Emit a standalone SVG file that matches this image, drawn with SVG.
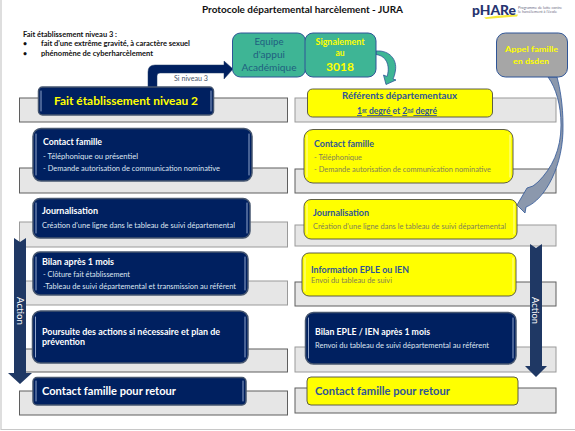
<svg xmlns="http://www.w3.org/2000/svg" width="575" height="431" viewBox="0 0 575 431">
<defs>
<style>
text{font-family:Lato,"Open Sans","Liberation Sans",sans-serif;white-space:pre}
.band{fill:#e6e6e6;stroke:#5f5f5f;stroke-width:1}
.bandr{fill:#e6e6e6;stroke:#9a9a9a;stroke-width:1}
.navy{fill:#002060;stroke:#46566f;stroke-width:1.500}
.yel{fill:#ffff00;stroke:#4d4d40;stroke-width:.9}
.gleam{fill:none;stroke:#8fa3c9;stroke-width:1;stroke-linecap:round}
.gleamy{fill:none;stroke:#ffffa8;stroke-width:1;stroke-linecap:round}
.teal{fill:#3eb595;stroke:#2f5597;stroke-width:1}
.wh{fill:#fff;font-weight:700}
.ws{fill:#dfe6f2;font-size:7px}
.yh{fill:#2f5597;font-weight:700}
.ys{fill:#7f8058;font-size:7px}
.yt{fill:#ffff00;font-weight:700}
.act{fill:#1f3864}
</style>
</defs>
<rect width="575" height="431" fill="#fff"/>
<path d="M1 0V429.500H575" fill="none" stroke="#c8c8c8" stroke-width="1.200"/>
<text x="202" y="13" font-size="9.500" fill="#111" font-weight="700" textLength="201" lengthAdjust="spacingAndGlyphs">Protocole départemental harcèlement - JURA</text>
<g id="logo">
<path d="M484 17.500Q502 15 518 14.500L517 16.500Q502 17.500 486 19Z" fill="#f6ea3a"/>
<text x="472" y="15" font-size="13.500" fill="#27346f" font-weight="900" textLength="44" lengthAdjust="spacingAndGlyphs">pHARe</text>
<text x="518" y="8.500" font-size="3" fill="#6d6d85" textLength="44" lengthAdjust="spacingAndGlyphs">Programme de lutte contre</text>
<text x="518" y="12.500" font-size="3" fill="#6d6d85" textLength="39" lengthAdjust="spacingAndGlyphs">le harcèlement à l'école</text>
</g>
<g id="note" font-size="7" fill="#111" font-weight="700">
<text x="23" y="37" textLength="94" lengthAdjust="spacingAndGlyphs">Fait établissement niveau 3 :</text>
<text x="23" y="46">•</text>
<text x="41" y="46" textLength="149" lengthAdjust="spacingAndGlyphs">fait d'une extrême gravité, à caractère sexuel</text>
<text x="23" y="56">•</text>
<text x="41" y="56" textLength="112" lengthAdjust="spacingAndGlyphs">phénomène de cyberharcèlement</text>
</g>
<g id="bands">
<rect class="band" x="19.500" y="98" width="268" height="24"/>
<rect class="band" x="19.500" y="168" width="268" height="25"/>
<rect class="bandr" x="19.500" y="222" width="268" height="25"/>
<rect class="bandr" x="19.500" y="281" width="268" height="24"/>
<rect class="band" x="19.500" y="349" width="268" height="23"/>
<rect class="band" x="19.500" y="391" width="268" height="24"/>
<rect class="bandr" x="295" y="98" width="261" height="24"/>
<rect class="band" x="295" y="169" width="261" height="24"/>
<rect class="bandr" x="295" y="225" width="261" height="21"/>
<rect class="band" x="295" y="282" width="261" height="24"/>
<rect class="bandr" x="295" y="347" width="261" height="25"/>
<rect class="band" x="295" y="388" width="261" height="25"/>
</g>
<g id="connectors">
<path d="M148 87V72Q148 65 155 65H224V61L233 69L224 79V73H160Q157 73 157 76V87Z" fill="#002060" stroke="#1f3864" stroke-width=".5"/>
<path d="M376 51C390 50 397 60 395.500 70C395 74 394 77 393 79L396 80L386 84.500L383.500 75L387 76.500C390 68 388 56 376 54.500Z" fill="#3eb595" stroke="#2f5597" stroke-width=".8"/>
<path d="M548 77C556 88 561 105 561 125C561 150 552 168 538 182L533 186L527 188L517 205L525 213L526 207C545 200 564 165 563 125C563 105 560 88 557 77Z" fill="#8b98ad" stroke="#2f5597" stroke-width=".8"/>
<path class="act" d="M14 238L20 242L26 238V373H32L20 384L8 373H14Z"/>
<path class="act" d="M530 244L536 248L542 244V366H547L536 377L525 366H530Z"/>
<text x="20" y="311" transform="rotate(90 20 311)" font-size="9" fill="#fff" text-anchor="middle" dominant-baseline="central" textLength="28" lengthAdjust="spacingAndGlyphs">Action</text>
<text x="535" y="310.500" transform="rotate(90 535 310.500)" font-size="9" fill="#fff" text-anchor="middle" dominant-baseline="central" textLength="27" lengthAdjust="spacingAndGlyphs">Action</text>
<text x="174" y="81" font-size="7" fill="#44546a" textLength="34" lengthAdjust="spacingAndGlyphs">Si niveau 3</text>
</g>
<g id="equipe">
<rect class="teal" x="232.500" y="33" width="73" height="44" rx="8"/>
<g font-size="10" fill="#1f5f80" text-anchor="middle"><text x="269" y="45" textLength="29" lengthAdjust="spacingAndGlyphs">Equipe</text><text x="269" y="58" textLength="32" lengthAdjust="spacingAndGlyphs">d'appui</text><text x="269" y="71" textLength="55" lengthAdjust="spacingAndGlyphs">Académique</text></g>
</g>
<g id="signalement">
<rect class="teal" x="305" y="33" width="71" height="44" rx="8"/>
<g text-anchor="middle"><text class="yt" x="340" y="45" font-size="8.500" textLength="49" lengthAdjust="spacingAndGlyphs">Signalement</text><text class="yt" x="340" y="56" font-size="8.500">au</text><text class="yt" x="340" y="71" font-size="12">3018</text></g>
</g>
<g id="appel">
<rect x="496.500" y="33" width="71" height="44" rx="9" fill="#a6a6a6" stroke="#2f5597" stroke-width="1"/>
<text class="yt" x="505" y="52" font-size="8" textLength="53" lengthAdjust="spacingAndGlyphs">Appel famille</text>
<text class="yt" x="513" y="64" font-size="8" textLength="36" lengthAdjust="spacingAndGlyphs">en dsden</text>
</g>
<g id="n-fait2">
<rect class="navy" x="38.500" y="87" width="175" height="28" rx="4"/>
<path class="gleam" d="M41 91V111M211 91V111"/>
<text class="yt" x="54" y="105" font-size="12" textLength="144" lengthAdjust="spacingAndGlyphs">Fait établissement niveau 2</text>
</g>
<g id="n-contact">
<rect class="navy" x="33" y="128.500" width="219" height="52.500" rx="8"/>
<path class="gleam" d="M36 134V175M249 134V175"/>
<text class="wh" x="43" y="145" font-size="8.500" textLength="59" lengthAdjust="spacingAndGlyphs">Contact famille</text>
<text class="ws" x="43" y="159" textLength="95" lengthAdjust="spacingAndGlyphs">- Téléphonique ou présentiel</text>
<text class="ws" x="43" y="171" textLength="177" lengthAdjust="spacingAndGlyphs">- Demande autorisation de communication nominative</text>
</g>
<g id="n-journal">
<rect class="navy" x="33" y="198.500" width="217" height="39.500" rx="7"/>
<path class="gleam" d="M36 203V233M247 203V233"/>
<text class="wh" x="42" y="214" font-size="8.500" textLength="56" lengthAdjust="spacingAndGlyphs">Journalisation</text>
<text class="ws" x="42" y="228" textLength="193" lengthAdjust="spacingAndGlyphs">Création d'une ligne dans le tableau de suivi départemental</text>
</g>
<g id="n-bilan">
<rect class="navy" x="33" y="252" width="215" height="43" rx="7"/>
<path class="gleam" d="M36 257V290M245 257V290"/>
<text class="wh" x="42" y="265" font-size="8.500" textLength="72" lengthAdjust="spacingAndGlyphs">Bilan après 1 mois</text>
<text class="ws" x="43" y="277" textLength="87" lengthAdjust="spacingAndGlyphs">- Clôture fait établissement</text>
<text class="ws" x="43" y="289" textLength="193" lengthAdjust="spacingAndGlyphs">-Tableau de suivi départemental et transmission au référent</text>
</g>
<g id="n-poursuite">
<rect class="navy" x="32.500" y="311" width="215.500" height="52" rx="8"/>
<path class="gleam" d="M35.500 317V357M245 317V357"/>
<text class="wh" x="42" y="335" font-size="8.500" textLength="178" lengthAdjust="spacingAndGlyphs">Poursuite des actions si nécessaire et plan de</text>
<text class="wh" x="42" y="345" font-size="8.500" textLength="43" lengthAdjust="spacingAndGlyphs">prévention</text>
</g>
<g id="n-retour">
<rect class="navy" x="33" y="377.500" width="213" height="27.500" rx="4"/>
<path class="gleam" d="M36 381V401M243 381V401"/>
<text class="wh" x="42" y="395" font-size="11" textLength="134" lengthAdjust="spacingAndGlyphs">Contact famille pour retour</text>
</g>
<g id="r-referents">
<rect class="yel" x="307.500" y="89" width="185" height="28" rx="5"/>
<text class="yh" x="342" y="99" font-size="9" textLength="115" lengthAdjust="spacingAndGlyphs">Référents départementaux</text>
<text class="yh" x="357" y="114" font-size="8.500"><tspan text-decoration="underline">1<tspan font-size="5.500" dy="-2.500">er</tspan><tspan dy="2.500"> degré </tspan></tspan>et <tspan text-decoration="underline">2<tspan font-size="5.500" dy="-2.500">nd</tspan><tspan dy="2.500"> degré</tspan></tspan></text>
</g>
<g id="r-contact">
<rect class="yel" x="304" y="129.500" width="209" height="53.500" rx="9"/>
<path class="gleamy" d="M307 135V177M510 135V177"/>
<text class="yh" x="314" y="147" font-size="8.500" textLength="60" lengthAdjust="spacingAndGlyphs">Contact famille</text>
<text class="ys" x="314" y="160" textLength="48" lengthAdjust="spacingAndGlyphs">- Téléphonique</text>
<text class="ys" x="314" y="172" textLength="177" lengthAdjust="spacingAndGlyphs">- Demande autorisation de communication nominative</text>
</g>
<g id="r-journal">
<rect class="yel" x="304" y="199.500" width="213" height="39.500" rx="7"/>
<path class="gleamy" d="M307 204V234M514 204V234"/>
<text class="yh" x="313" y="216" font-size="8.500" textLength="56" lengthAdjust="spacingAndGlyphs">Journalisation</text>
<text class="ys" x="313" y="229" textLength="193" lengthAdjust="spacingAndGlyphs">Création d'une ligne dans le tableau de suivi départemental</text>
</g>
<g id="r-info">
<rect class="yel" x="302" y="253" width="214" height="43" rx="7"/>
<path class="gleamy" d="M305 258V291M513 258V291"/>
<text class="yh" x="311" y="273" font-size="8.500" textLength="98" lengthAdjust="spacingAndGlyphs">Information EPLE ou IEN</text>
<text class="ys" x="311" y="283" textLength="81" lengthAdjust="spacingAndGlyphs">Envoi du tableau de suivi</text>
</g>
<g id="r-bilan">
<rect class="navy" x="305.500" y="312.500" width="210.500" height="51.500" rx="8"/>
<path class="gleam" d="M308.500 318V358M513 318V358"/>
<text class="wh" x="315" y="335" font-size="8.500" textLength="115" lengthAdjust="spacingAndGlyphs">Bilan EPLE / IEN après 1 mois</text>
<text class="ws" x="315" y="348" textLength="174" lengthAdjust="spacingAndGlyphs">Renvoi du tableau de suivi départemental au référent</text>
</g>
<g id="r-retour">
<rect class="yel" x="307" y="377" width="211" height="28" rx="4"/>
<text class="yh" x="315" y="395" font-size="11" textLength="135" lengthAdjust="spacingAndGlyphs">Contact famille pour retour</text>
</g>
</svg>
